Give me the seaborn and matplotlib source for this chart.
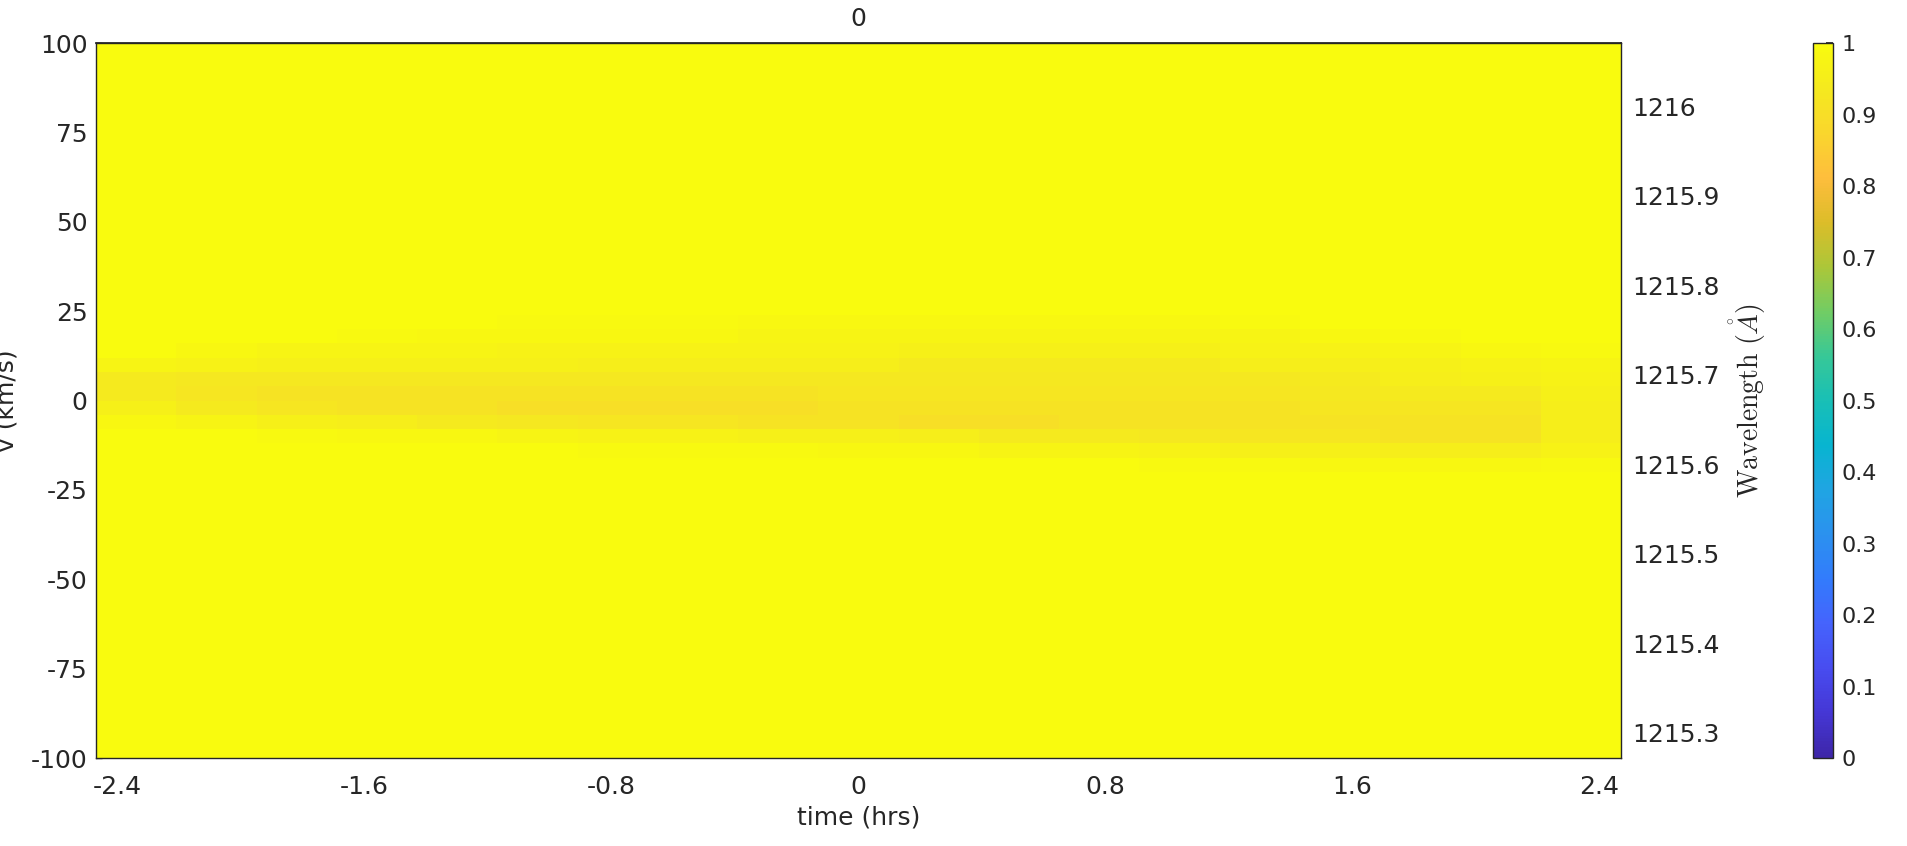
import numpy as np
import pandas as pd
import matplotlib
matplotlib.use("Agg")
import matplotlib.pyplot as plt
import seaborn as sns
from matplotlib.colors import LinearSegmentedColormap

# time bins (hrs), bin centres
time_centers = [-2.34, -2.08, -1.82, -1.56, -1.30, -1.04, -0.78, -0.52, -0.26, 0.0,
                0.26, 0.52, 0.78, 1.04, 1.30, 1.56, 1.82, 2.08, 2.34]
dt = 0.26

# velocity rows (km/s) that carry the absorption band; everything else is 1
v_band = [22, 18, 14, 10, 6, 2, -2, -6, -10, -14, -18]
dv = 4

# normalised flux in the band, one list per time bin (top row v=22 -> bottom v=-18)
band_by_time = [
    [1.000, 1.000, 1.000, 0.975, 0.940, 0.940, 0.960, 0.985, 1.000, 1.000, 1.000],
    [1.000, 1.000, 0.985, 0.965, 0.930, 0.925, 0.940, 0.975, 1.000, 1.000, 1.000],
    [1.000, 1.000, 0.975, 0.960, 0.930, 0.915, 0.925, 0.960, 0.990, 1.000, 1.000],
    [1.000, 0.990, 0.975, 0.960, 0.930, 0.915, 0.915, 0.950, 0.985, 1.000, 1.000],
    [1.000, 0.985, 0.975, 0.960, 0.930, 0.915, 0.915, 0.940, 0.985, 1.000, 1.000],
    [0.990, 0.985, 0.965, 0.960, 0.930, 0.915, 0.905, 0.930, 0.975, 1.000, 1.000],
    [0.990, 0.985, 0.965, 0.950, 0.930, 0.915, 0.905, 0.925, 0.965, 0.990, 1.000],
    [0.990, 0.985, 0.965, 0.950, 0.930, 0.915, 0.905, 0.925, 0.965, 0.990, 1.000],
    [0.985, 0.975, 0.965, 0.950, 0.930, 0.915, 0.905, 0.915, 0.960, 0.990, 1.000],
    [0.985, 0.975, 0.965, 0.950, 0.930, 0.925, 0.915, 0.915, 0.960, 0.985, 1.000],
    [0.985, 0.975, 0.960, 0.940, 0.930, 0.925, 0.915, 0.905, 0.950, 0.985, 1.000],
    [0.985, 0.975, 0.960, 0.940, 0.930, 0.925, 0.915, 0.905, 0.940, 0.975, 1.000],
    [0.985, 0.975, 0.960, 0.940, 0.930, 0.925, 0.915, 0.915, 0.940, 0.975, 1.000],
    [0.985, 0.975, 0.960, 0.940, 0.930, 0.925, 0.915, 0.915, 0.930, 0.965, 0.990],
    [0.990, 0.975, 0.965, 0.950, 0.930, 0.925, 0.915, 0.915, 0.925, 0.960, 0.990],
    [1.000, 0.985, 0.965, 0.950, 0.940, 0.930, 0.925, 0.915, 0.925, 0.960, 0.985],
    [1.000, 0.990, 0.975, 0.960, 0.950, 0.940, 0.925, 0.915, 0.915, 0.950, 0.985],
    [1.000, 1.000, 0.985, 0.965, 0.960, 0.940, 0.925, 0.915, 0.915, 0.950, 0.985],
    [1.000, 1.000, 0.990, 0.975, 0.965, 0.960, 0.950, 0.950, 0.950, 0.965, 0.990],
]

x_ticks = [-2.4, -1.6, -0.8, 0, 0.8, 1.6, 2.4]
x_ticklabels = ["-2.4", "-1.6", "-0.8", "0", "0.8", "1.6", "2.4"]
y_ticks = [100, 75, 50, 25, 0, -25, -50, -75, -100]
wl_ticks = [1215.3, 1215.4, 1215.5, 1215.6, 1215.7, 1215.8, 1215.9, 1216.0]
wl_ticklabels = ["1215.3", "1215.4", "1215.5", "1215.6", "1215.7", "1215.8", "1215.9", "1216"]
cbar_ticks = [0, 0.1, 0.2, 0.3, 0.4, 0.5, 0.6, 0.7, 0.8, 0.9, 1]
cbar_ticklabels = ["0", "0.1", "0.2", "0.3", "0.4", "0.5", "0.6", "0.7", "0.8", "0.9", "1"]

# wavelength range of the right axis (bottom, top)
wl_lim = (1215.2715, 1216.0707)

# MATLAB parula
parula = LinearSegmentedColormap.from_list("parula", [
    (0.2422, 0.1504, 0.6603), (0.2706, 0.2147, 0.8364), (0.2813, 0.3006, 0.9414),
    (0.2699, 0.3892, 0.9906), (0.1963, 0.4847, 0.9892), (0.1687, 0.5703, 0.9359),
    (0.1248, 0.6459, 0.8883), (0.0297, 0.7082, 0.8163), (0.0964, 0.7500, 0.7120),
    (0.2161, 0.7843, 0.5923), (0.4456, 0.8024, 0.3909), (0.6720, 0.7793, 0.2227),
    (0.8634, 0.7406, 0.1596), (0.9956, 0.7434, 0.2371), (0.9793, 0.8386, 0.1766),
    (0.9600, 0.9150, 0.1200), (0.9763, 0.9831, 0.0538)], N=256)

# build full velocity grid (top row = +100 km/s)
v_centers = np.arange(100 - dv / 2, -100, -dv)
flux = np.ones((len(v_centers), len(time_centers)))
row0 = int(np.where(v_centers == v_band[0])[0][0])
flux[row0:row0 + len(v_band), :] = np.array(band_by_time).T
df = pd.DataFrame(flux, index=v_centers, columns=time_centers)
n_rows = len(v_centers)

t0 = time_centers[0] - dt / 2
def t2i(t): return (np.asarray(t) - t0) / dt
def i2t(i): return np.asarray(i) * dt + t0
def v2i(v): return (100 - np.asarray(v)) / dv
def i2wl(i): return wl_lim[1] - np.asarray(i) / n_rows * (wl_lim[1] - wl_lim[0])
def wl2i(w): return (wl_lim[1] - np.asarray(w)) / (wl_lim[1] - wl_lim[0]) * n_rows

sns.set_theme(style="white")
plt.rcParams["font.family"] = ["DejaVu Sans"]
plt.rcParams["mathtext.fontset"] = "cm"
dark = (0.15, 0.15, 0.15)

fig = plt.figure(figsize=(19.08, 8.46), dpi=100)
ax = fig.add_axes([0.0503, 0.104, 0.7993, 0.845])
cax = fig.add_axes([0.9502, 0.104, 0.0105, 0.845])

sns.heatmap(df, cmap=parula, vmin=0, vmax=1, ax=ax, cbar_ax=cax,
            xticklabels=False, yticklabels=False)

ax.set_xticks(t2i(x_ticks))
ax.set_xticklabels(x_ticklabels, rotation=0)
ax.set_yticks(v2i(y_ticks))
ax.set_yticklabels([str(v) for v in y_ticks], rotation=0)
ax.tick_params(direction="in", length=4, width=1, labelsize=18, colors=dark,
               bottom=True, left=True)
ax.tick_params(axis="x", pad=12)
ax.tick_params(axis="y", pad=6)
for s in ax.spines.values():
    s.set_visible(True)
    s.set_color(dark)
    s.set_linewidth(1)
ax.set_xlabel("time (hrs)", fontsize=18, color=dark, labelpad=5)
ax.set_ylabel("v (km/s)", fontsize=18, color=dark)
ax.yaxis.set_label_coords(-0.0505, 0.5)

top = ax.secondary_xaxis("top", functions=(i2t, t2i))
top.set_xticks([0])
top.set_xticklabels(["0"])
top.tick_params(direction="in", length=10, labelsize=18, colors=dark, pad=9)

right = ax.secondary_yaxis("right", functions=(i2wl, wl2i))
right.set_yticks(wl_ticks)
right.set_yticklabels(wl_ticklabels)
right.tick_params(direction="in", length=10, labelsize=18, colors=dark, pad=8)
right.set_ylabel(r"$\mathrm{Wavelength}\ (\mathring{A})$", fontsize=20, color=dark, labelpad=6)

cb = ax.collections[0].colorbar
cb.set_ticks(cbar_ticks)
cb.set_ticklabels(cbar_ticklabels)
cb.outline.set_visible(True)
cb.outline.set_linewidth(1)
cb.outline.set_edgecolor(dark)
cax.tick_params(direction="in", length=5, labelsize=16, colors=dark, right=True, pad=6)

fig.savefig("out.png", dpi=100)
